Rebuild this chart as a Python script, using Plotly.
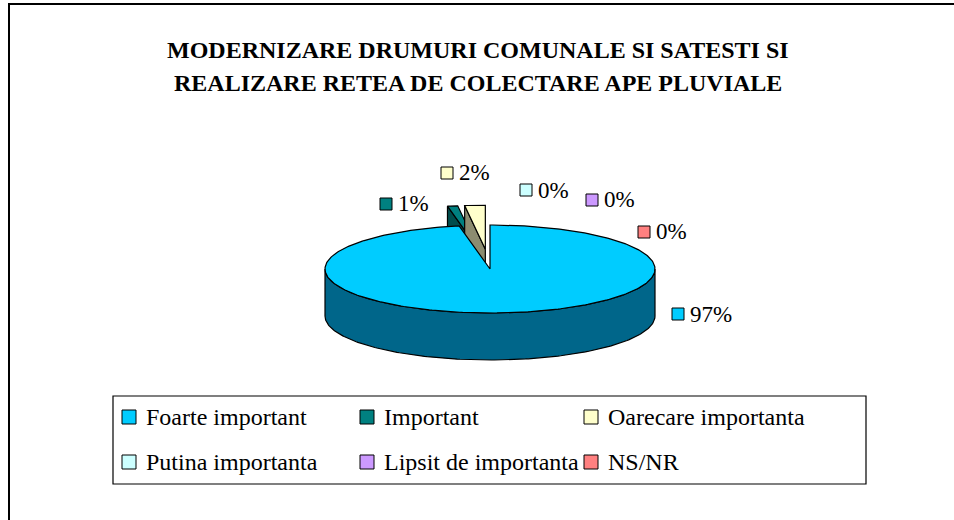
import math
import plotly.graph_objects as go

# ---- data ----
categories = ["Foarte important", "Important", "Oarecare importanta",
              "Putina importanta", "Lipsit de importanta", "NS/NR"]
values = [97, 1, 2, 0, 0, 0]
colors = ["#00CCFF", "#008080", "#FFFFCC", "#CCFFFF", "#CC99FF", "#FF8080"]
side_colors = ["#00668A", "#004D4D", "#8C8C70", "#7AA3A3", "#7A5C99", "#994D4D"]
exploded = [0, 1, 1, 0, 0, 0]
title_lines = ["MODERNIZARE DRUMURI COMUNALE SI SATESTI SI",
               "REALIZARE RETEA DE COLECTARE APE PLUVIALE"]

# ---- layout constants (pixels) ----
W, H = 954, 520
CX, CY, RX, RY, DEPTH = 490, 269, 165, 44, 47
EXPLODE = 0.45
label_pos = [(672, 314), (380, 204), (441, 173), (520, 190), (586, 200), (638, 232)]
legend_cols = [122, 360, 584]
legend_rows = [417, 462]
FONT = "Liberation Serif"

def pt(theta, r, z, off):
    return (CX + off[0] + r * RX * math.sin(theta),
            CY + off[1] - r * RY * math.cos(theta) + z)

def arc(a, b, z, off, n=None):
    if n is None:
        n = max(2, int(abs(b - a) / (math.pi / 180)) + 2)
    return [pt(a + (b - a) * i / (n - 1), 1, z, off) for i in range(n)]

fig = go.Figure()

def poly(points, fill):
    xs = [p[0] for p in points] + [points[0][0]]
    ys = [p[1] for p in points] + [points[0][1]]
    fig.add_trace(go.Scatter(x=xs, y=ys, mode="lines", fill="toself",
                             fillcolor=fill, line=dict(color="black", width=1.2),
                             hoverinfo="skip", showlegend=False))

total = float(sum(values))
slices = []
acc = 0.0
for i, v in enumerate(values):
    a = acc / total * 2 * math.pi
    acc += v
    b = acc / total * 2 * math.pi
    slices.append((i, a, b))

def draw_slice(i, a, b):
    if b - a <= 1e-9:
        return
    mid = (a + b) / 2
    e = EXPLODE if exploded[i] else 0.0
    off = (e * RX * math.sin(mid), -e * RY * math.cos(mid))
    lo, hi = max(a, math.pi / 2), min(b, 3 * math.pi / 2)
    if hi > lo:
        top = arc(lo, hi, 0, off)
        bot = arc(hi, lo, DEPTH, off)
        poly(top + bot, side_colors[i])
    c_top = (CX + off[0], CY + off[1])
    c_bot = (CX + off[0], CY + off[1] + DEPTH)
    if math.sin(a) < -1e-6:
        poly([c_top, pt(a, 1, 0, off), pt(a, 1, DEPTH, off), c_bot], side_colors[i])
    if math.sin(b) > 1e-6:
        poly([c_top, pt(b, 1, 0, off), pt(b, 1, DEPTH, off), c_bot], side_colors[i])
    poly([c_top] + arc(a, b, 0, off) + [c_top], colors[i])

for i, a, b in slices:
    if exploded[i]:
        draw_slice(i, a, b)
for i, a, b in slices:
    if not exploded[i]:
        draw_slice(i, a, b)

shapes = []
annotations = []

def px(x):
    return x / W

def py(y):
    return 1 - y / H

# outer chart border
shapes.append(dict(type="rect", xref="paper", yref="paper", x0=px(9), x1=px(W + 5),
                   y0=py(H + 5), y1=py(4), line=dict(color="black", width=2),
                   fillcolor="rgba(0,0,0,0)", layer="below"))

# data labels
for i, v in enumerate(values):
    lx, ly = label_pos[i]
    shapes.append(dict(type="rect", xref="paper", yref="paper", x0=px(lx), x1=px(lx + 12),
                       y0=py(ly + 6), y1=py(ly - 6), fillcolor=colors[i],
                       line=dict(color="black", width=1)))
    annotations.append(dict(x=px(lx + 16), y=py(ly), xref="paper", yref="paper",
                            xanchor="left", yanchor="middle", showarrow=False,
                            text=f"{round(100 * v / total)}%",
                            font=dict(family=FONT, size=23, color="black")))

# legend
shapes.append(dict(type="rect", xref="paper", yref="paper", x0=px(113), x1=px(866),
                   y0=py(484), y1=py(396), line=dict(color="black", width=1.2),
                   fillcolor="rgba(0,0,0,0)"))
for i, name in enumerate(categories):
    lx = legend_cols[i % 3]
    ly = legend_rows[i // 3]
    shapes.append(dict(type="rect", xref="paper", yref="paper", x0=px(lx), x1=px(lx + 14),
                       y0=py(ly + 7), y1=py(ly - 7), fillcolor=colors[i],
                       line=dict(color="black", width=1)))
    annotations.append(dict(x=px(lx + 22), y=py(ly), xref="paper", yref="paper",
                            xanchor="left", yanchor="middle", showarrow=False,
                            text=name, font=dict(family=FONT, size=24, color="black")))

# title
for k, line in enumerate(title_lines):
    annotations.append(dict(x=px(478), y=py(50 + 33 * k), xref="paper", yref="paper",
                            xanchor="center", yanchor="middle", showarrow=False,
                            text=f"<b>{line}</b>",
                            font=dict(family=FONT, size=24, color="black")))

fig.update_layout(
    width=W, height=H, margin=dict(l=0, r=0, t=0, b=0),
    font=dict(family=FONT, color="black"),
    paper_bgcolor="white", plot_bgcolor="white",
    xaxis=dict(range=[0, W], visible=False, fixedrange=True),
    yaxis=dict(range=[H, 0], visible=False, fixedrange=True),
    shapes=shapes, annotations=annotations, showlegend=False,
)
fig.write_html("out.html", config={"displayModeBar": False},
               post_script="document.body.style.margin='0';")
